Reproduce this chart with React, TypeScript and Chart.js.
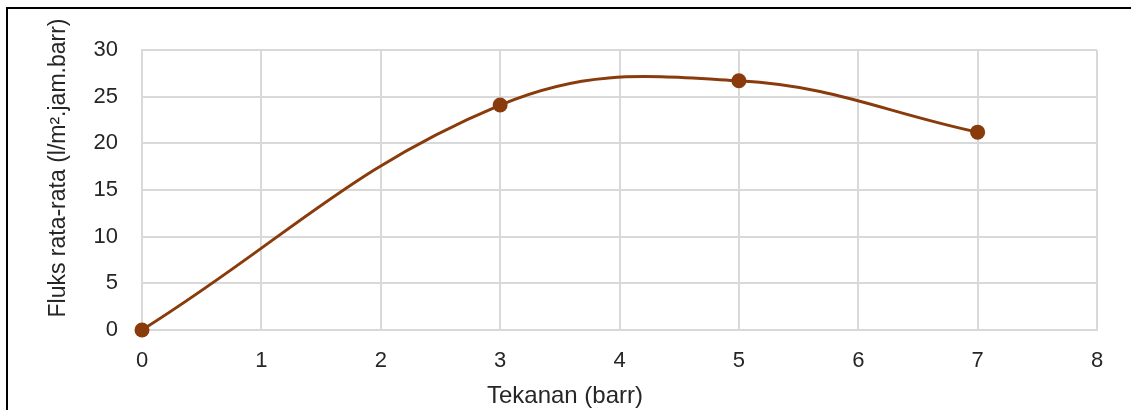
import React, { useEffect, useRef } from "react";
import { Chart, registerables } from "chart.js";

Chart.register(...registerables);

const pressures = [0, 3, 5, 7];
const fluxValues = [0, 24.1, 26.7, 21.2];
const xTickValues = [0, 1, 2, 3, 4, 5, 6, 7, 8];
const yTickValues = [0, 5, 10, 15, 20, 25, 30];
const xTitle = "Tekanan (barr)";
const yTitle = "Fluks rata-rata (l/m\u00B2.jam.barr)";

const FONT = '"Liberation Sans", Arial, sans-serif';
const TEXT = "#262626";
const GRID = "#d9d9d9";
const LINE = "#8a3b0c";

const titlePlugin = {
  id: "excelTitles",
  afterDraw(chart: any) {
    const ctx = chart.ctx;
    ctx.save();
    ctx.fillStyle = TEXT;
    ctx.textAlign = "center";
    ctx.textBaseline = "middle";
    ctx.font = `24px ${FONT}`;
    ctx.fillText(xTitle, 565, 396);
    ctx.font = `23px ${FONT}`;
    ctx.translate(59, 168);
    ctx.rotate(-Math.PI / 2);
    ctx.fillText(yTitle, 0, 0);
    ctx.restore();
  },
};

export default function App() {
  const ref = useRef<HTMLCanvasElement | null>(null);

  useEffect(() => {
    document.body.style.overflow = "hidden";
    const canvas = ref.current;
    if (!canvas) return;
    const chart = new Chart(canvas, {
      type: "line",
      data: {
        datasets: [
          {
            data: pressures.map((p, i) => ({ x: p, y: fluxValues[i] })),
            borderColor: LINE,
            backgroundColor: LINE,
            borderWidth: 3,
            pointRadius: 7.5,
            pointBackgroundColor: LINE,
            pointBorderColor: LINE,
            pointBorderWidth: 0,
            tension: 0.4,
            clip: false as any,
          },
        ],
      },
      options: {
        animation: false,
        responsive: false,
        maintainAspectRatio: false,
        events: [],
        layout: { padding: { top: 50, right: 34, left: 0, bottom: 0 } },
        plugins: {
          legend: { display: false },
          tooltip: { enabled: false },
          title: { display: false },
        },
        scales: {
          x: {
            type: "linear",
            min: 0,
            max: 8,
            afterFit(scale: any) {
              scale.height = 80;
            },
            afterBuildTicks(scale: any) {
              scale.ticks = xTickValues.map((v) => ({ value: v }));
            },
            grid: { color: GRID, lineWidth: 2, drawTicks: false },
            border: { color: GRID, width: 2 },
            ticks: {
              color: TEXT,
              font: { family: FONT, size: 22 },
              padding: 18,
              maxRotation: 0,
            },
          },
          y: {
            type: "linear",
            min: 0,
            max: 30,
            afterFit(scale: any) {
              scale.width = 142;
            },
            afterBuildTicks(scale: any) {
              scale.ticks = yTickValues.map((v) => ({ value: v }));
            },
            grid: { color: GRID, lineWidth: 2, drawTicks: false },
            border: { color: GRID, width: 2 },
            ticks: {
              color: TEXT,
              font: { family: FONT, size: 22 },
              padding: 24,
            },
          },
        },
      },
      plugins: [titlePlugin],
    });
    return () => chart.destroy();
  }, []);

  return (
    <div
      style={{
        position: "fixed",
        left: 0,
        top: 0,
        width: 1131,
        height: 410,
        overflow: "hidden",
        background: "#ffffff",
      }}
    >
      <canvas
        ref={ref}
        width={1131}
        height={410}
        style={{ position: "absolute", left: 0, top: 0, width: 1131, height: 410 }}
      />
      <div
        style={{
          position: "absolute",
          left: 6,
          top: 7,
          width: 2000,
          height: 2000,
          borderTop: "2px solid #000",
          borderLeft: "2px solid #000",
          pointerEvents: "none",
        }}
      />
    </div>
  );
}
